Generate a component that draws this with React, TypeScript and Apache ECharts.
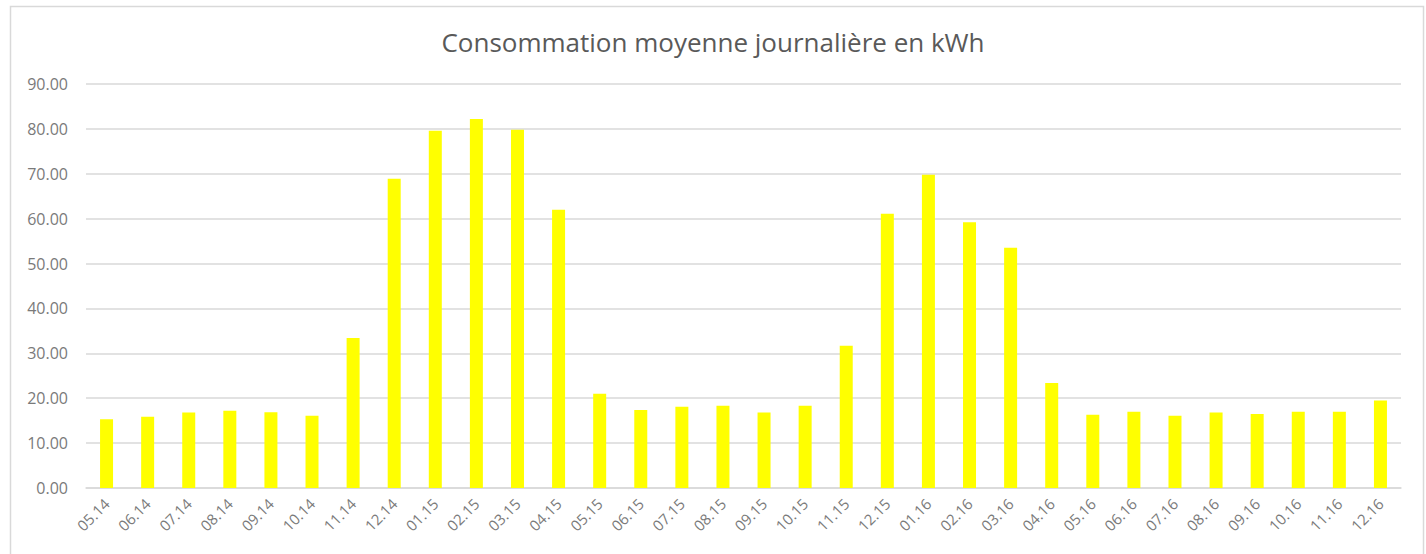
import React, { useEffect, useRef } from "react";
import * as echarts from "echarts";

const categories = [
  "05.14", "06.14", "07.14", "08.14", "09.14", "10.14", "11.14", "12.14",
  "01.15", "02.15", "03.15", "04.15", "05.15", "06.15", "07.15", "08.15",
  "09.15", "10.15", "11.15", "12.15", "01.16", "02.16", "03.16", "04.16",
  "05.16", "06.16", "07.16", "08.16", "09.16", "10.16", "11.16", "12.16",
];

const consumption = [
  15.3, 15.9, 16.8, 17.2, 16.9, 16.1, 33.4, 68.9,
  79.6, 82.2, 79.8, 62.0, 21.0, 17.4, 18.1, 18.3,
  16.8, 18.3, 31.7, 61.1, 69.8, 59.2, 53.5, 23.4,
  16.3, 17.0, 16.1, 16.8, 16.5, 17.0, 17.0, 19.5,
];

const titleText = "Consommation moyenne journalière en kWh";

export default function App() {
  const ref = useRef<HTMLDivElement>(null);
  useEffect(() => {
    if (!ref.current) return;
    const chart = echarts.init(ref.current, undefined, { renderer: "svg" });
    const font = "'Open Sans', 'Noto Sans', sans-serif";
    chart.setOption({
      animation: false,
      backgroundColor: "#ffffff",
      textStyle: { fontFamily: font },
      title: {
        text: titleText,
        left: "center",
        top: 24,
        textStyle: { fontFamily: font, fontSize: 26, fontWeight: "normal", color: "#595959" },
      },
      graphic: [
        {
          type: "rect",
          shape: { x: 10.5, y: 6.5, width: 1413, height: 560 },
          style: { fill: "none", stroke: "#d9d9d9", lineWidth: 1.5 },
          silent: true,
        },
      ],
      grid: { left: 86, right: 25, top: 84, bottom: 66, containLabel: false },
      xAxis: {
        type: "category",
        data: categories,
        axisTick: { show: false },
        axisLine: { show: true, lineStyle: { color: "#d9d9d9", width: 1.5 } },
        axisLabel: {
          rotate: 45,
          interval: 0,
          color: "#7a7a7a",
          fontSize: 15,
          fontFamily: font,
          margin: 13,
        },
      },
      yAxis: {
        type: "value",
        min: 0,
        max: 90,
        interval: 10,
        axisLine: { show: false },
        axisTick: { show: false },
        splitLine: { lineStyle: { color: "#d9d9d9", width: 1.5 } },
        axisLabel: {
          color: "#7a7a7a",
          fontSize: 16,
          fontFamily: font,
          margin: 18,
          formatter: (v: number) => v.toFixed(2),
        },
      },
      series: [
        {
          type: "bar",
          data: consumption,
          barWidth: 13,
          itemStyle: { color: "#ffff00" },
        },
      ],
    });
    return () => chart.dispose();
  }, []);
  return (
    <div
      ref={ref}
      style={{ position: "fixed", left: 0, top: 0, width: 1426, height: 554 }}
    />
  );
}
